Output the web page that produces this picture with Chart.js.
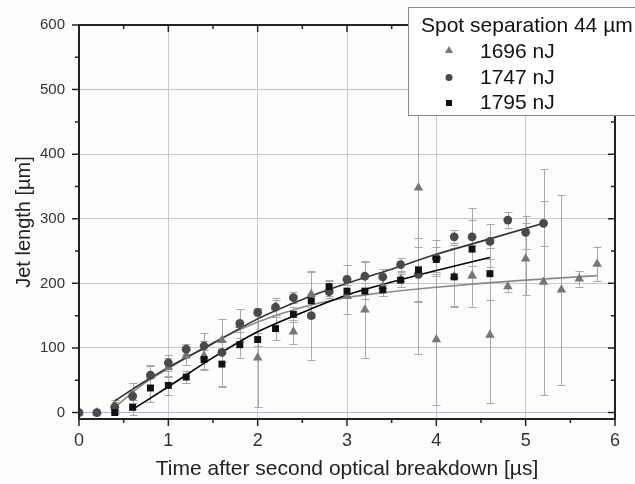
<!DOCTYPE html>
<html><head><meta charset="utf-8">
<script src="https://cdn.jsdelivr.net/npm/chart.js@4.4.1/dist/chart.umd.min.js"></script>
<style>html,body{margin:0;padding:0;background:#fcfcfa;overflow:hidden}</style>
</head><body><canvas id="c" width="635" height="484"></canvas>
<script>
// ---- data ----
const times = [0,0.2,0.4,0.6,0.8,1.0,1.2,1.4,1.6,1.8,2.0,2.2,2.4,2.6,2.8,3.0,3.2,3.4,3.6,3.8,4.0,4.2,4.4,4.6,4.8,5.0,5.2,5.4,5.6,5.8];
const len1696 = [0,0,12,30,57,70,88,88,112,135,85,163,125,183,193,180,159,195,206,348,113,211,212,120,195,238,202,190,207,230];
const err1696 = [0,0,8,15,15,15,15,22,33,25,77,15,19,36,12,27,75,15,12,258,102,48,48,106,8,56,175,147,12,27];
const len1747 = [0,0,8,25,58,77,98,103,93,138,155,163,178,150,187,206,211,210,229,214,239,272,272,265,298,279,293,null,null,null];
const err1747 = [0,0,8,20,15,12,8,20,52,22,5,12,8,68,10,23,22,12,10,42,28,10,45,27,12,26,35,0,0,0];
const len1795 = [null,null,0,8,38,42,55,82,75,105,113,130,152,173,195,188,188,190,205,221,237,210,253,215,null,null,null,null,null,null];
const err1795 = [0,0,3,12,22,15,10,15,35,20,10,18,12,10,8,10,12,10,10,50,19,45,45,40,0,0,0,0,0,0];
// fitted curves
const fit1696T = [0.4,0.7,1.0,1.5,2.0,2.5,3.0,3.5,4.0,4.5,5.0,5.8];
const fit1696V = [8,42,68,108,140,163,178,187,194,200,205,212];
const fit1747T = [0.4,0.7,1.0,1.5,2.0,2.5,3.0,3.5,4.0,4.5,5.2];
const fit1747V = [18,45,70,107,145,175,200,222,245,265,293];
const fit1795T = [0.6,1.0,1.5,2.0,2.5,3.0,3.5,4.0,4.6];
const fit1795V = [5,40,85,125,155,182,202,220,240];
const xTicks = [0,1,2,3,4,5,6];
const yTicks = [0,100,200,300,400,500,600];
const xMinor = [0.5,1.5,2.5,3.5,4.5,5.5];
const yMinor = [50,150,250,350,450,550];
const legendTitle = 'Spot separation 44 µm';
const seriesNames = ['1696 nJ','1747 nJ','1795 nJ'];

const FONT = '"Liberation Sans", Arial, sans-serif';
const C_TRI = '#767676', C_CIR = '#4a4a4a', C_SQ = '#111111';

function pts(xs, ys){ const out=[]; xs.forEach((x,i)=>{ if(ys[i]!==null && ys[i]!==undefined) out.push({x:x,y:ys[i]}); }); return out; }

const errSets = [
  {t:times, v:len1696, e:err1696},
  {t:times, v:len1747, e:err1747},
  {t:times, v:len1795, e:err1795}
];

const bgPlugin = {
  id:'bg',
  beforeDraw(chart){ const c=chart.ctx; c.save(); c.fillStyle='#fcfcfa'; c.fillRect(0,0,chart.width,chart.height); c.restore(); }
};

const errPlugin = {
  id:'errbars',
  beforeDatasetsDraw(chart){
    const c=chart.ctx, xs=chart.scales.x, ys=chart.scales.y, a=chart.chartArea;
    c.save();
    c.beginPath(); c.rect(a.left,a.top,a.right-a.left,a.bottom-a.top); c.clip();
    c.strokeStyle='#a8a8a8'; c.lineWidth=1;
    errSets.forEach(s=>{
      s.t.forEach((t,i)=>{
        const v=s.v[i], e=s.e[i];
        if(v===null||v===undefined||!e) return;
        const px=Math.round(xs.getPixelForValue(t))+0.5;
        const y1=ys.getPixelForValue(v-e), y2=ys.getPixelForValue(v+e);
        c.beginPath(); c.moveTo(px,y1); c.lineTo(px,y2);
        c.moveTo(px-4,Math.round(y1)+0.5); c.lineTo(px+4,Math.round(y1)+0.5);
        c.moveTo(px-4,Math.round(y2)+0.5); c.lineTo(px+4,Math.round(y2)+0.5);
        c.stroke();
      });
    });
    c.restore();
  }
};

const framePlugin = {
  id:'frame',
  afterDatasetsDraw(chart){
    const c=chart.ctx, xs=chart.scales.x, ys=chart.scales.y, a=chart.chartArea;
    c.save();
    c.strokeStyle='#222'; c.lineWidth=2;
    c.strokeRect(a.left,a.top,a.right-a.left,a.bottom-a.top);
    c.lineWidth=1.5;
    c.beginPath();
    xTicks.forEach(v=>{ const p=xs.getPixelForValue(v);
      c.moveTo(p,a.bottom); c.lineTo(p,a.bottom+7);
      c.moveTo(p,a.top); c.lineTo(p,a.top+7); });
    xMinor.forEach(v=>{ const p=xs.getPixelForValue(v);
      c.moveTo(p,a.bottom); c.lineTo(p,a.bottom+4);
      c.moveTo(p,a.top); c.lineTo(p,a.top+4); });
    yTicks.forEach(v=>{ const p=ys.getPixelForValue(v);
      c.moveTo(a.left,p); c.lineTo(a.left-7,p);
      c.moveTo(a.right,p); c.lineTo(a.right-7,p); });
    yMinor.forEach(v=>{ const p=ys.getPixelForValue(v);
      c.moveTo(a.left,p); c.lineTo(a.left-4,p);
      c.moveTo(a.right,p); c.lineTo(a.right-4,p); });
    c.stroke();
    c.restore();
  }
};

const legendPlugin = {
  id:'boxlegend',
  afterDraw(chart){
    const c=chart.ctx;
    c.save();
    c.fillStyle='#ffffff'; c.strokeStyle='#888'; c.lineWidth=1;
    c.fillRect(408.5,7.5,240,108); c.strokeRect(408.5,7.5,240,108);
    c.fillStyle='#111'; c.font='21px '+FONT; c.textBaseline='alphabetic'; c.textAlign='left';
    c.fillText(legendTitle,421,32);
    const ys=[58,84,109];
    seriesNames.forEach((n,i)=>c.fillText(n,480,ys[i]));
    // symbols
    c.fillStyle=C_TRI; c.beginPath(); c.moveTo(449,46); c.lineTo(453,53); c.lineTo(445,53); c.closePath(); c.fill();
    c.fillStyle=C_CIR; c.beginPath(); c.arc(449,77.5,3.5,0,Math.PI*2); c.fill();
    c.fillStyle=C_SQ; c.fillRect(446,100,6,6);
    c.restore();
  }
};

new Chart(document.getElementById('c'), {
  type:'scatter',
  data:{ datasets:[
    {label:'fit1696', data:pts(fit1696T,fit1696V), showLine:true, borderColor:'#8a8a8a', borderWidth:1.6, pointRadius:0, cubicInterpolationMode:'monotone', order:5},
    {label:'fit1747', data:pts(fit1747T,fit1747V), showLine:true, borderColor:'#333333', borderWidth:1.6, pointRadius:0, cubicInterpolationMode:'monotone', order:4},
    {label:'fit1795', data:pts(fit1795T,fit1795V), showLine:true, borderColor:'#000000', borderWidth:1.6, pointRadius:0, cubicInterpolationMode:'monotone', order:3},
    {label:seriesNames[0], data:pts(times,len1696), pointStyle:'triangle', pointRadius:5.5, backgroundColor:C_TRI, borderColor:C_TRI, borderWidth:0, order:2},
    {label:seriesNames[1], data:pts(times,len1747), pointStyle:'circle', pointRadius:4.4, backgroundColor:C_CIR, borderColor:C_CIR, borderWidth:0, order:1},
    {label:seriesNames[2], data:pts(times,len1795), pointStyle:'rect', pointRadius:4.9, backgroundColor:C_SQ, borderColor:C_SQ, borderWidth:0, order:0}
  ]},
  options:{
    responsive:false, animation:false, devicePixelRatio:1,
    layout:{padding:{top:25,right:20,left:0,bottom:0}},
    plugins:{legend:{display:false}, tooltip:{enabled:false}},
    scales:{
      x:{type:'linear', min:0, max:6,
        afterBuildTicks(s){ s.ticks = xTicks.map(v=>({value:v})); },
        afterFit(s){ s.height = 65; },
        grid:{color:'#c9c9c9', lineWidth:1, drawTicks:false},
        border:{display:false},
        ticks:{font:{size:18, family:FONT}, color:'#333', padding:11, maxRotation:0},
        title:{display:true, text:'Time after second optical breakdown [µs]', font:{size:21, family:FONT}, color:'#222', padding:{top:0,bottom:2}}
      },
      y:{type:'linear', min:-10, max:600,
        afterBuildTicks(s){ s.ticks = yTicks.map(v=>({value:v})); },
        afterFit(s){ s.width = 79; },
        grid:{color:(ctx)=> (ctx.tick && ctx.tick.value===0) ? '#b4aed0' : '#c9c9c9', lineWidth:1, drawTicks:false},
        border:{display:false},
        ticks:{font:{size:15, family:FONT}, color:'#333', padding:14},
        title:{display:true, text:'Jet length [µm]', font:{size:20, family:FONT}, color:'#222', padding:{top:12,bottom:0}}
      }
    }
  },
  plugins:[bgPlugin, errPlugin, framePlugin, legendPlugin]
});
</script>
</body></html>
